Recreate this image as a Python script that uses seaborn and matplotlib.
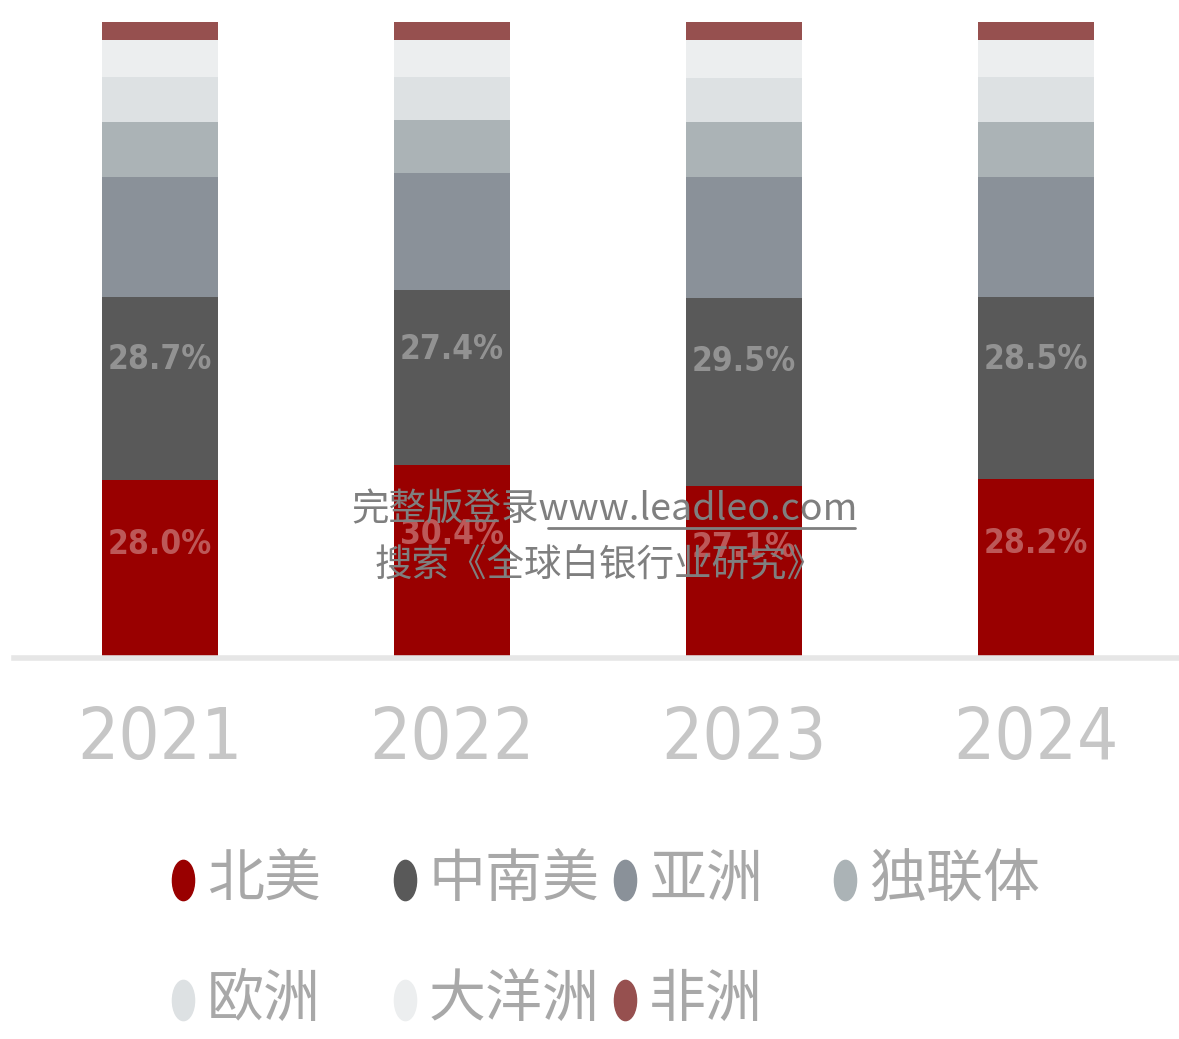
import pandas as pd
import matplotlib
matplotlib.use('Agg')
import matplotlib.pyplot as plt
import seaborn as sns
from matplotlib import font_manager as fm
from matplotlib.lines import Line2D
from matplotlib.markers import MarkerStyle
from matplotlib.transforms import Affine2D

# data (share of world silver demand by region, %)
years = ['2021', '2022', '2023', '2024']
regions = ['北美', '中南美', '亚洲', '独联体', '欧洲', '大洋洲', '非洲']
na = [28.0, 30.4, 27.1, 28.2]
csa = [28.7, 27.4, 29.5, 28.5]
asia = [19.0, 18.4, 19.0, 18.9]
cis = [8.6, 8.4, 8.6, 8.7]
europe = [7.0, 6.8, 7.0, 7.0]
oceania = [5.8, 5.8, 5.9, 5.8]
africa = [2.9, 2.8, 2.9, 2.9]
colors = ['#990000', '#595959', '#8a9199', '#abb3b6', '#dde1e3', '#eceeef', '#96504f']


def narrow_font():
    # a condensed face for the digits, whatever is installed
    try:
        fm.findfont(fm.FontProperties(family='Liberation Sans Narrow'), fallback_to_default=False)
        return fm.FontProperties(family='Liberation Sans Narrow')
    except ValueError:
        pass
    fp = fm.FontProperties(family='DejaVu Sans', stretch='condensed')
    if 'Condensed' in fm.findfont(fp):
        return fp
    return fm.FontProperties(family='DejaVu Sans')


sns.set_style('white')
plt.rcParams['font.family'] = ['Noto Sans CJK SC', 'DejaVu Sans']
narrow = narrow_font()

df = pd.DataFrame({'year': years, '北美': na, '中南美': csa, '亚洲': asia,
                   '独联体': cis, '欧洲': europe, '大洋洲': oceania, '非洲': africa})
cum = df[regions].cumsum(axis=1)
cum['year'] = df['year']

W, H = 1179, 1039
fig = plt.figure(figsize=(W / 100, H / 100), dpi=100)
ax = fig.add_axes([14 / W, 1 - 658 / H, 1168 / W, 636 / H])

# stacked bars: draw the tallest cumulative first, then overlay
for reg, col in zip(regions[::-1], colors[::-1]):
    sns.barplot(data=cum, x='year', y=reg, color=col, saturation=1,
                width=0.394, linewidth=0, errorbar=None, ax=ax)

# value labels on 北美 and 中南美
lab_fp = narrow.copy()
lab_fp.set_size(24)
lab_fp.set_weight('bold')
for i in range(len(years)):
    ax.text(i, na[i] * 0.64, f'{na[i]:.1f}%', ha='center', va='center',
            color='white', alpha=0.35, fontproperties=lab_fp)
    ax.text(i, na[i] + csa[i] * 0.66, f'{csa[i]:.1f}%', ha='center', va='center',
            color='white', alpha=0.35, fontproperties=lab_fp)

ax.set_xlim(-0.5, 3.5)
ax.set_ylim(0, 100)
ax.set_xlabel('')
ax.set_ylabel('')
ax.set_yticks([])
for s in ['top', 'right', 'left']:
    ax.spines[s].set_visible(False)
ax.spines['bottom'].set_color('#e6e6e6')
ax.spines['bottom'].set_linewidth(4)
ax.tick_params(axis='x', length=0, pad=34, labelcolor='#c6c6c6')
tick_fp = narrow.copy()
tick_fp.set_size(52)
for lab in ax.get_xticklabels():
    lab.set_fontproperties(tick_fp)

# legend laid out on a fixed grid
leg_x = [183, 405, 625, 845, 183, 405, 625]
leg_y = [880, 880, 880, 880, 1000, 1000, 1000]
ell = MarkerStyle('o', transform=Affine2D().scale(0.55, 1.0))
for name, col, lx, ly in zip(regions, colors, leg_x, leg_y):
    fig.add_artist(Line2D([lx / W], [1 - ly / H], transform=fig.transFigure,
                          marker=ell, markersize=29, color=col, linestyle='none'))
    fig.text((lx + 24) / W, 1 - ly / H, name, ha='left', va='center',
             fontsize=41, color='#a8a8a8')

# watermark
fig.text(605 / W, 1 - 510 / H, '完整版登录www.leadleo.com', ha='center', va='center',
         fontsize=27, color='#7f7f7f', style='italic')
fig.text(600 / W, 1 - 565 / H, '搜索《全球白银行业研究》', ha='center', va='center',
         fontsize=27, color='#7f7f7f', style='italic')
fig.add_artist(Line2D([548 / W, 855 / W], [1 - 528 / H, 1 - 528 / H],
                      transform=fig.transFigure, color='#7f7f7f', lw=2))

fig.savefig('out.png', dpi=100)
